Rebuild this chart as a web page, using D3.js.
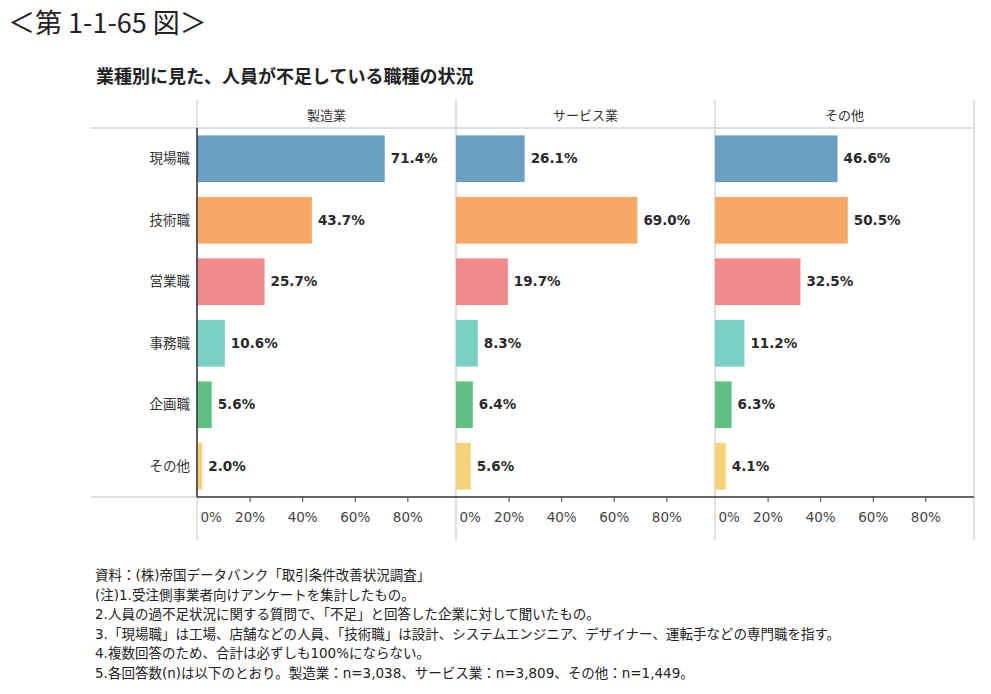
<!DOCTYPE html>
<html><head><meta charset="utf-8">
<script src="https://cdn.jsdelivr.net/npm/d3@7"></script>
<style>
body{margin:0;background:#fff;}
svg{display:block;}
svg text{font-family:"Noto Sans CJK JP","Noto Sans",sans-serif;}
svg text.num{font-family:"DejaVu Sans",sans-serif;}
svg text.note{font-family:"DejaVu Sans","Noto Sans CJK JP",sans-serif;}
</style></head>
<body><svg id="c" width="991" height="694"></svg>
<script>
const categories = ["現場職","技術職","営業職","事務職","企画職","その他"];
const industries = ["製造業","サービス業","その他"];
const valuesManufacturing = [71.4, 43.7, 25.7, 10.6, 5.6, 2.0];
const valuesService = [26.1, 69.0, 19.7, 8.3, 6.4, 5.6];
const valuesOther = [46.6, 50.5, 32.5, 11.2, 6.3, 4.1];
const tickValues = [0, 20, 40, 60, 80];
const colors = ["#6b9fc0","#f5a868","#f08a8b","#7ad0c5","#5fbf84","#f4d27b"];
const notes = [
 "資料：(株)帝国データバンク「取引条件改善状況調査」",
 "(注)1.受注側事業者向けアンケートを集計したもの。",
 "2.人員の過不足状況に関する質問で、「不足」と回答した企業に対して聞いたもの。",
 "3.「現場職」は工場、店舗などの人員、「技術職」は設計、システムエンジニア、デザイナー、運転手などの専門職を指す。",
 "4.複数回答のため、合計は必ずしも100%にならない。",
 "5.各回答数(n)は以下のとおり。製造業：n=3,038、サービス業：n=3,809、その他：n=1,449。"
];
const series = [valuesManufacturing, valuesService, valuesOther];

const svg = d3.select("#c");
svg.append("text").attr("x",8).attr("y",33).attr("font-size",27).attr("fill","#222")
  .text("＜第 1-1-65 図＞");
svg.append("text").attr("x",96).attr("y",83).attr("font-size",18).attr("font-weight","bold").attr("fill","#222")
  .text("業種別に見た、人員が不足している職種の状況");

const plotLeft = 197, panelW = 259, plotTop = 128, plotBottom = 497, headTop = 100, lineLeft = 91, belowY = 540;
const x = d3.scaleLinear().domain([0, 98.5]).range([0, panelW]);
const y = d3.scaleBand().domain(categories).range([plotTop, plotBottom]).paddingInner(0.24).paddingOuter(0.12);
const panelX = d3.scaleBand().domain(industries).range([plotLeft, plotLeft + panelW*3]);

svg.append("line").attr("x1",lineLeft).attr("x2",plotLeft+panelW*3).attr("y1",plotTop).attr("y2",plotTop).attr("stroke","#d6d6d6").attr("stroke-width",1.5);
svg.append("line").attr("x1",lineLeft).attr("x2",plotLeft).attr("y1",plotBottom).attr("y2",plotBottom).attr("stroke","#d6d6d6").attr("stroke-width",1.5);
for (let i=0;i<=3;i++){
  const px = plotLeft + panelW*i;
  svg.append("line").attr("x1",px).attr("x2",px).attr("y1",headTop).attr("y2",belowY).attr("stroke","#d6d6d6").attr("stroke-width",1.5);
}

industries.forEach((ind, i) => {
  const px = panelX(ind);
  const g = svg.append("g").attr("transform",`translate(${px},0)`);
  g.append("text").attr("x",panelW/2).attr("y",120).attr("text-anchor","middle").attr("font-size",13).attr("fill","#333").text(ind);
  g.selectAll("rect").data(series[i]).join("rect")
    .attr("x",0).attr("y",(d,j)=>y(categories[j])).attr("width",d=>x(d)).attr("height",y.bandwidth())
    .attr("fill",(d,j)=>colors[j]);
  g.selectAll("text.v").data(series[i]).join("text").attr("class","v num")
    .attr("x",d=>x(d)+6).attr("y",(d,j)=>y(categories[j])+y.bandwidth()/2).attr("dy","0.35em")
    .attr("font-weight","bold").attr("font-size",13.5).attr("fill","#2a2a2a")
    .text(d=>d.toFixed(1)+"%");
  const ax = g.append("g").attr("transform",`translate(0,${plotBottom})`)
    .call(d3.axisBottom(x).tickValues(tickValues).tickSize(5).tickFormat(d=>d+"%"));
  ax.select(".domain").remove();
  ax.selectAll(".tick line").attr("stroke","#444").filter(d=>d===0).remove();
  ax.selectAll(".tick text").attr("class","num").attr("font-size",13.5).attr("fill","#444").attr("y",15)
    .filter(d=>d===0).attr("text-anchor","start").attr("x",3);
});

svg.append("line").attr("x1",plotLeft).attr("x2",plotLeft+panelW*3).attr("y1",plotBottom).attr("y2",plotBottom).attr("stroke","#333").attr("stroke-width",1.5);
svg.append("line").attr("x1",plotLeft).attr("x2",plotLeft).attr("y1",plotTop).attr("y2",plotBottom).attr("stroke","#333").attr("stroke-width",1.5);

svg.append("g").selectAll("text").data(categories).join("text")
  .attr("x",190).attr("y",d=>y(d)+y.bandwidth()/2).attr("dy","0.35em").attr("text-anchor","end")
  .attr("font-size",13.5).attr("fill","#333").text(d=>d);

svg.append("g").selectAll("text").data(notes).join("text").attr("class","note")
  .attr("x",95).attr("y",(d,i)=>580+i*19.6).attr("font-size",13.5).attr("fill","#222").text(d=>d);
</script></body></html>
